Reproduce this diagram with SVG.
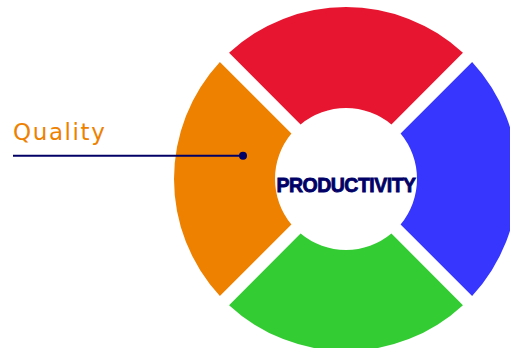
<svg xmlns="http://www.w3.org/2000/svg" width="510" height="348" viewBox="0 0 510 348">
<style>
.seg{stroke:none}
.lbl{font-family:"DejaVu Sans","Liberation Sans",sans-serif;font-size:23px;fill:#EE8100;letter-spacing:1.6px}
.center{font-family:"Liberation Sans",Arial,sans-serif;font-weight:bold;font-size:19.5px;fill:#000066;stroke:#000066;stroke-width:0.8;letter-spacing:-0.5px}
.conn{stroke:#000066;stroke-width:2;fill:none}
</style>
<rect width="510" height="348" fill="#ffffff"/>
<g id="seg-red"><path class="seg" fill="#E81530" d="M229.06 52.87 A172 172 0 0 1 462.94 52.87 L391.40 124.41 A71 71 0 0 0 300.60 124.41 Z"/></g>
<g id="seg-blue"><path class="seg" fill="#3636FF" d="M472.13 62.06 A172 172 0 0 1 472.13 295.94 L400.59 224.40 A71 71 0 0 0 400.59 133.60 Z"/></g>
<g id="seg-green"><path class="seg" fill="#33CC33" d="M462.94 305.13 A172 172 0 0 1 229.06 305.13 L300.60 233.59 A71 71 0 0 0 391.40 233.59 Z"/></g>
<g id="seg-orange"><path class="seg" fill="#EE8100" d="M219.87 295.94 A172 172 0 0 1 219.87 62.06 L291.41 133.60 A71 71 0 0 0 291.41 224.40 Z"/></g>
<g id="center"><text class="center" x="346" y="191.5" text-anchor="middle">PRODUCTIVITY</text></g>
<g id="connectors">
<line class="conn" x1="13" y1="155.7" x2="243" y2="155.7"/>
<circle cx="243" cy="155.7" r="4" fill="#000066"/>
</g>
<g id="label-quality"><text class="lbl" x="13" y="139.5">Quality</text></g>
</svg>
